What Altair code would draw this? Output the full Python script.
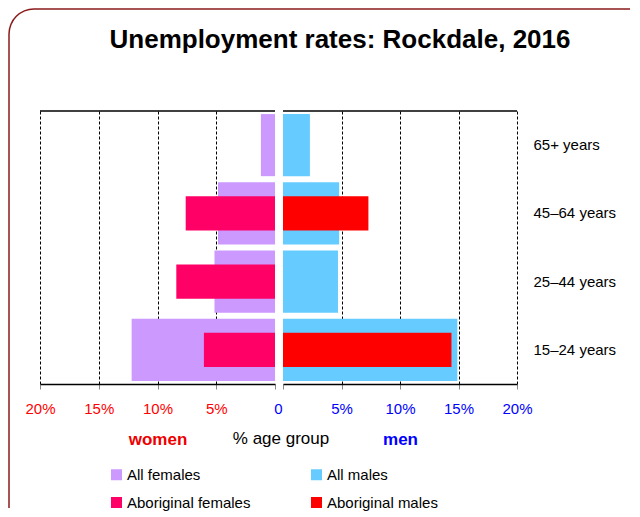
import altair as alt
import pandas as pd
import math

ages = ["65+ years", "45–64 years", "25–44 years", "15–24 years"]
all_females = [1.2, 4.85, 5.15, 12.2]
abor_females = [0.0, 7.6, 8.4, 6.05]
all_males = [2.3, 4.8, 4.7, 14.9]
abor_males = [0.0, 7.3, 0.0, 14.4]
x_ticks = [0, 5, 10, 15, 20]
series = ["All females", "Aboriginal females", "All males", "Aboriginal males"]
colors = ["#CC99FF", "#FF0066", "#66CCFF", "#FF0000"]

rows = []
for i, a in enumerate(ages):
    rows.append({"age": a, "series": "All females", "sex": "F", "kind": "all", "value": all_females[i]})
    rows.append({"age": a, "series": "Aboriginal females", "sex": "F", "kind": "abor", "value": abor_females[i]})
    rows.append({"age": a, "series": "All males", "sex": "M", "kind": "all", "value": all_males[i]})
    rows.append({"age": a, "series": "Aboriginal males", "sex": "M", "kind": "abor", "value": abor_males[i]})
df = pd.DataFrame(rows)

FONT = "Liberation Sans"
WL, WR, H = 235, 234, 273
FRAME = "#8B1A1A"

yscale = alt.Scale(domain=ages, paddingInner=0, paddingOuter=0)
color = alt.Color(
    "series:N",
    scale=alt.Scale(domain=series, range=colors),
    legend=alt.Legend(
        title=None, orient="none", legendX=69, legendY=356, columns=2,
        columnPadding=58, rowPadding=12, symbolType="square", symbolSize=121,
        symbolStrokeWidth=0, labelFontSize=15, labelFont=FONT, labelOffset=3,
        labelColor="black",
    ),
)

left_axis = alt.Axis(
    values=x_ticks, title="women", titleColor="#EE0000", titleFontWeight="bold",
    titleFontSize=17, titlePadding=15, labelFlush=False,
    labelExpr="datum.value == 0 ? '0' : datum.value + '%'",
    labelColor={"condition": {"test": "datum.value == 0", "value": "#0000FF"}, "value": "#FF0000"},
    labelOffset={"condition": {"test": "datum.value == 0", "value": 3}, "value": 0},
    gridOpacity={"condition": {"test": "datum.value == 0", "value": 0}, "value": 1},
)
right_axis = alt.Axis(
    values=x_ticks, title="men", titleColor="#0000FF", titleFontWeight="bold",
    titleFontSize=17, titlePadding=15, labelFlush=False,
    labelExpr="datum.value == 0 ? '' : datum.value + '%'",
    labelColor="#0000FF",
    gridOpacity={"condition": {"test": "datum.value == 0", "value": 0}, "value": 1},
)
right_y_axis = alt.Axis(orient="right", title=None, domain=False, ticks=False,
                        labelPadding=16, labelFontSize=15, labelColor="black", grid=False)


def bars(sex, kind, band, xscale, xaxis, yaxis):
    return (
        alt.Chart(df)
        .transform_filter((alt.datum.sex == sex) & (alt.datum.kind == kind))
        .mark_bar(height={"band": band})
        .encode(
            x=alt.X("value:Q", scale=xscale, axis=xaxis),
            y=alt.Y("age:N", sort=ages, scale=yscale, axis=yaxis),
            color=color,
        )
    )


one = alt.Data(values=[{"k": 1}])

def top_rule(w):
    return alt.Chart(one).mark_rule(color="black", strokeWidth=1.5).encode(
        x=alt.value(0), x2=alt.value(w), y=alt.value(0)
    )

# decorative rounded frame (top-left corner, top edge, left edge)
FT, FL, R = -102, -31, 25
frame_top = alt.Chart(one).mark_rule(color=FRAME, strokeWidth=1.5).encode(
    x=alt.value(FL + R), x2=alt.value(590), y=alt.value(FT))
frame_left = alt.Chart(one).mark_rule(color=FRAME, strokeWidth=1.5).encode(
    x=alt.value(FL), y=alt.value(FT + R), y2=alt.value(397))
frame_corner = alt.Chart(one).mark_arc(
    theta=1.5 * math.pi, theta2=2 * math.pi, radius=R + 0.75, radius2=R - 0.75, color=FRAME
).encode(x=alt.value(FL + R), y=alt.value(FT + R))

title = alt.Chart(one).mark_text(
    text="Unemployment rates: Rockdale, 2016", font=FONT, fontSize=26,
    fontWeight="bold", align="center", baseline="alphabetic", color="black"
).encode(x=alt.value(300), y=alt.value(-63))

mid = alt.Chart(one).mark_text(
    text="% age group", font=FONT, fontSize=17, align="center",
    baseline="alphabetic", color="black"
).encode(x=alt.value(241), y=alt.value(333))

lscale = alt.Scale(domain=[0, 20], reverse=True, nice=False)
rscale = alt.Scale(domain=[0, 20], nice=False)

left = alt.layer(
    bars("F", "all", 0.91, lscale, left_axis, None),
    bars("F", "abor", 0.5, lscale, left_axis, None),
    top_rule(WL), frame_top, frame_left, frame_corner, title, mid,
).properties(width=WL, height=H)

right = alt.layer(
    bars("M", "all", 0.91, rscale, right_axis, right_y_axis),
    bars("M", "abor", 0.5, rscale, right_axis, right_y_axis),
    top_rule(WR),
).properties(width=WR, height=H)

chart = (
    alt.hconcat(left, right, spacing=8, bounds="flush")
    .properties(padding={"left": 0, "top": 0, "right": 0, "bottom": 0})
    .configure_view(stroke=None)
    .configure_axis(
        labelFont=FONT, titleFont=FONT, labelFontSize=15, domainColor="black",
        domainWidth=1.5, tickColor="#888888", tickSize=5, labelPadding=12,
        gridColor="black", gridDash=[3, 2], gridWidth=1,
    )
)

chart.save("out.html", embed_options={"renderer": "svg", "actions": False})
